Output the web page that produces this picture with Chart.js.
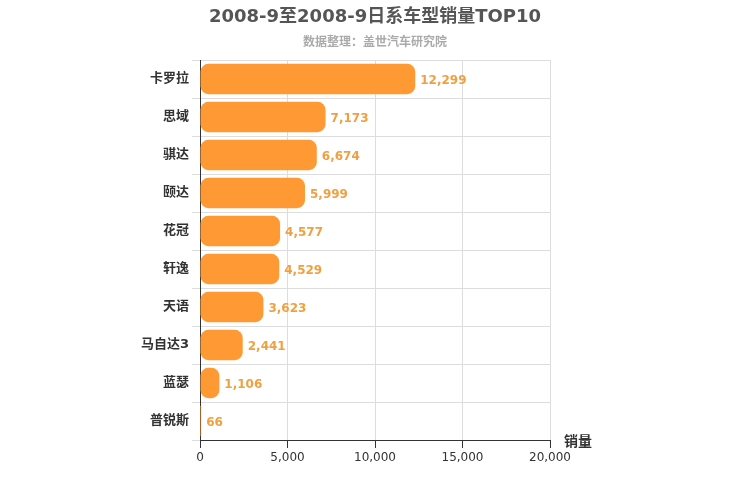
<!DOCTYPE html>
<html><head><meta charset="utf-8">
<script src="https://cdn.jsdelivr.net/npm/chart.js@4/dist/chart.umd.min.js"></script>
<style>body{margin:0}#w{width:750px;height:500px}</style></head>
<body><div id="w"><canvas id="c"></canvas></div>
<script>
const categories=["卡罗拉","思域","骐达","颐达","花冠","轩逸","天语","马自达3","蓝瑟","普锐斯"];
const sales=[12299,7173,6674,5999,4577,4529,3623,2441,1106,66];
const F='"DejaVu Sans","Noto Sans CJK SC",sans-serif';
const deco={id:'deco',afterDraw(ch){const c=ch.ctx;c.save();
c.textAlign='center';c.fillStyle='#555';c.font='bold 18px '+F;c.fillText('2008-9至2008-9日系车型销量TOP10',375,22);
c.fillStyle='#aaa';c.font='bold 12px '+F;c.fillText('数据整理：盖世汽车研究院',375,46);
c.fillStyle='#333';c.font='bold 14px '+F;c.textAlign='left';c.fillText('销量',564,446);
const m=ch.getDatasetMeta(0);c.fillStyle='#f0a040';c.font='bold 12px '+F;c.textBaseline='middle';
m.data.forEach((b,i)=>c.fillText(sales[i].toLocaleString('en-US'),b.x+5,b.y+2));c.restore();}};
new Chart(document.getElementById('c'),{type:'bar',data:{labels:categories,datasets:[{data:sales,backgroundColor:'#ff9933',borderRadius:8,borderSkipped:false,categoryPercentage:0.8,barPercentage:1}]},
options:{indexAxis:'y',responsive:true,maintainAspectRatio:false,animation:false,
layout:{padding:{top:60,right:200,left:0,bottom:0}},
plugins:{legend:{display:false},tooltip:{enabled:false}},
scales:{x:{min:0,max:20000,ticks:{stepSize:5000,color:'#333',font:{size:12,family:F},callback:v=>v.toLocaleString('en-US')},grid:{color:'#ddd',tickColor:'#333'},border:{color:'#333'},afterFit(s){s.height=60}},
y:{ticks:{color:'#333',font:{size:13,weight:'bold',family:F}},grid:{color:'#ddd'},border:{color:'#333'},afterFit(s){s.width=200}}}},
plugins:[deco]});
</script></body></html>
